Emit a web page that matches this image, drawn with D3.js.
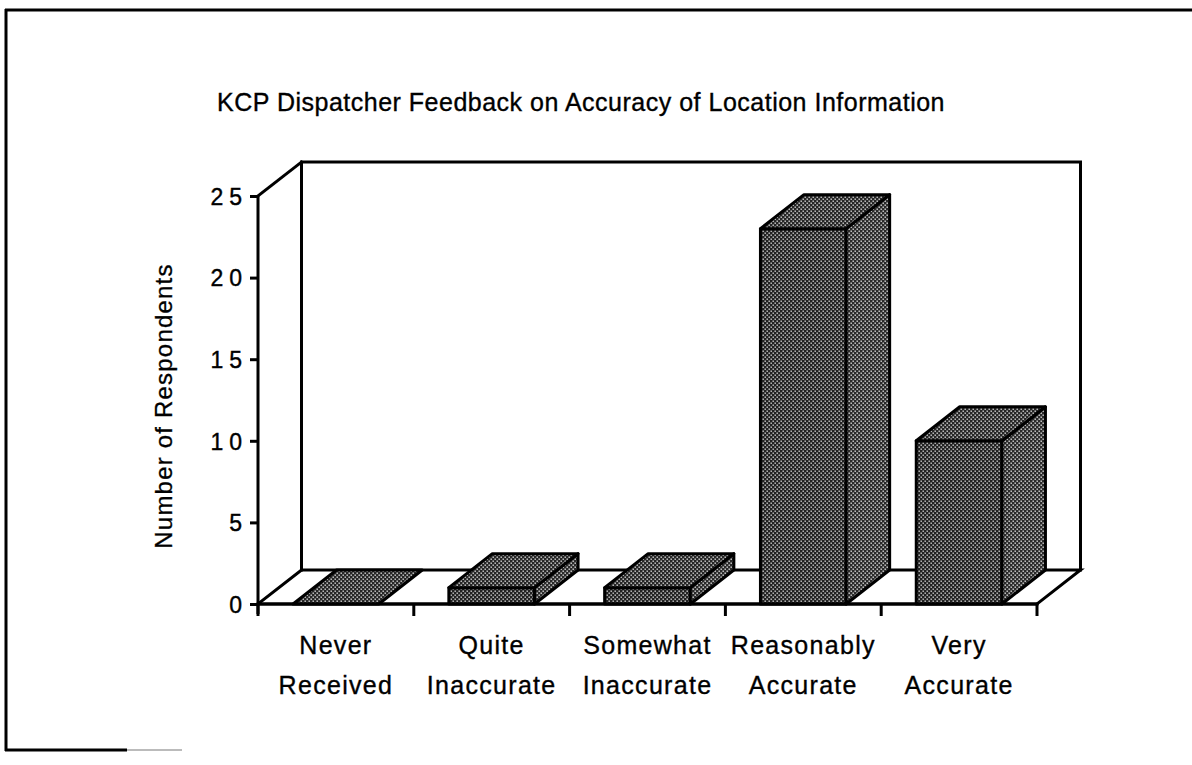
<!DOCTYPE html>
<html>
<head>
<meta charset="utf-8">
<script src="https://cdn.jsdelivr.net/npm/d3@7/dist/d3.min.js"></script>
<style>
  html, body { margin: 0; padding: 0; background: #fff; }
  svg { display: block; }
  text { font-family: "Liberation Sans", Arial, Helvetica, sans-serif; fill: #000; }
</style>
</head>
<body>
<svg id="chart" width="1192" height="765"></svg>
<script>
// Survey categories (two-line labels) and respondent counts
const categories = ["Never Received", "Quite Inaccurate", "Somewhat Inaccurate", "Reasonably Accurate", "Very Accurate"];
const labelLines = [["Never", "Received"], ["Quite", "Inaccurate"], ["Somewhat", "Inaccurate"], ["Reasonably", "Accurate"], ["Very", "Accurate"]];
const respondents = [0, 1, 1, 23, 10];
const yTicks = [0, 5, 10, 15, 20, 25];
const titleText = "KCP Dispatcher Feedback on Accuracy of Location Information";
const yTitle = "Number of Respondents";

const svg = d3.select("#chart");

// 3-D depth offset of the back plane
const depth = { dx: 43.5, dy: -34 };

const x = d3.scaleBand()
  .domain(categories)
  .range([258, 1037])
  .paddingInner(0.45)
  .paddingOuter(0.225);

const y = d3.scaleLinear().domain([0, 25]).range([604, 196]);

// Halftone fill used by the bars
const defs = svg.append("defs");
function halftone(id, bg, dot) {
  const p = defs.append("pattern")
    .attr("id", id).attr("patternUnits", "userSpaceOnUse")
    .attr("width", 4).attr("height", 4);
  p.append("rect").attr("width", 4).attr("height", 4).attr("fill", bg);
  p.append("rect").attr("x", 0.5).attr("y", 0.5).attr("width", 1.4).attr("height", 1.4).attr("fill", dot);
  p.append("rect").attr("x", 2.5).attr("y", 2.5).attr("width", 1.4).attr("height", 1.4).attr("fill", dot);
}
halftone("dotsFront", "#222", "#d0d0d0");
halftone("dotsSide", "#2a2a2a", "#dedede");
halftone("dotsTop", "#262626", "#d8d8d8");

// Outer frame
const frame = svg.append("g").attr("stroke", "#000").attr("fill", "none");
frame.append("line").attr("x1", 5).attr("y1", 10).attr("x2", 1192).attr("y2", 10).attr("stroke-width", 3);
frame.append("line").attr("x1", 6).attr("y1", 9).attr("x2", 6).attr("y2", 751).attr("stroke-width", 3);
frame.append("line").attr("x1", 5).attr("y1", 750).attr("x2", 127).attr("y2", 750).attr("stroke-width", 3);
frame.append("line").attr("x1", 127).attr("y1", 750).attr("x2", 182).attr("y2", 750).attr("stroke-width", 2).attr("stroke", "#bbb");

// Title
svg.append("text")
  .attr("x", 581).attr("y", 111)
  .attr("text-anchor", "middle")
  .attr("font-size", 25)
  .attr("letter-spacing", 0.5)
  .attr("stroke", "#000").attr("stroke-width", 0.35)
  .text(titleText);

// Walls and floor
const x0 = x.range()[0], x1 = x.range()[1];
const yb = y(0), yt = y(25);
const walls = svg.append("g").attr("stroke", "#000").attr("stroke-width", 3)
  .attr("fill", "none").attr("stroke-linejoin", "miter").attr("stroke-linecap", "square");
// back wall
walls.append("path").attr("d", d3.line()([
  [x0 + depth.dx, yb + depth.dy],
  [x0 + depth.dx, yt + depth.dy],
  [x1 + depth.dx, yt + depth.dy],
  [x1 + depth.dx, yb + depth.dy]
]));
// left side top edge
walls.append("path").attr("d", d3.line()([[x0, yt], [x0 + depth.dx, yt + depth.dy]]));
// floor
walls.append("path").attr("d", d3.line()([
  [x0, yb], [x0 + depth.dx, yb + depth.dy],
  [x1 + depth.dx, yb + depth.dy], [x1, yb]
]));
walls.append("path").attr("d", d3.line()([[x0, yb], [x1, yb]]));

// Bars drawn as extruded boxes
const bars = svg.append("g").selectAll("g").data(categories).join("g");
bars.each(function (c, i) {
  const g = d3.select(this);
  const v = respondents[i];
  const L = x(c), R = x(c) + x.bandwidth();
  const T = y(v), B = y(0);
  const dx = depth.dx, dy = depth.dy;
  const line = d3.line();
  const style = s => s.attr("stroke", "#000").attr("stroke-width", 3).attr("stroke-linejoin", "round");
  if (v > 0) {
    style(g.append("path").attr("fill", "url(#dotsFront)")
      .attr("d", line([[L, B], [L, T], [R, T], [R, B]]) + "Z"));
    style(g.append("path").attr("fill", "url(#dotsSide)")
      .attr("d", line([[R, B], [R, T], [R + dx, T + dy], [R + dx, B + dy]]) + "Z"));
  }
  style(g.append("path").attr("fill", "url(#dotsTop)")
    .attr("stroke-width", v > 0 ? 3 : 1)
    .attr("d", line([[L, T], [R, T], [R + dx, T + dy], [L + dx, T + dy]]) + "Z"));
});

// Front floor edge on top of bar bases
svg.append("line").attr("x1", x0).attr("x2", x1).attr("y1", yb).attr("y2", yb)
  .attr("stroke", "#000").attr("stroke-width", 3);

// Category tick marks at band boundaries
const gap = (x.step() - x.bandwidth()) / 2;
const bounds = categories.map(c => x(c) - gap).concat([x1]);
svg.append("g").selectAll("line").data(bounds).join("line")
  .attr("x1", d => d).attr("x2", d => d)
  .attr("y1", yb).attr("y2", yb + 12)
  .attr("stroke", "#000").attr("stroke-width", 3);

// Value axis
const letterSp = 6;
const yAxis = svg.append("g")
  .attr("transform", `translate(${x0},0)`)
  .call(d3.axisLeft(y).tickValues(yTicks).tickSize(8).tickPadding(6).tickFormat(d3.format("d")));
yAxis.select(".domain").attr("stroke-width", 3).attr("d", `M0,${yt}V${yb + 10}`);
yAxis.selectAll(".tick line").attr("stroke-width", 3);
yAxis.selectAll(".tick text")
  .attr("font-size", 23)
  .attr("font-family", "Liberation Sans, Arial, sans-serif")
  .attr("letter-spacing", letterSp)
  .attr("dx", letterSp - 2)
  .attr("dy", "0.36em")
  .attr("stroke", "#000").attr("stroke-width", 0.4);

// Axis title
svg.append("text")
  .attr("transform", `translate(172,406) rotate(-90)`)
  .attr("text-anchor", "middle")
  .attr("font-size", 24)
  .attr("letter-spacing", 1.2)
  .attr("stroke", "#000").attr("stroke-width", 0.3)
  .text(yTitle);

// Category labels
const labels = svg.append("g").selectAll("text").data(categories).join("text")
  .attr("text-anchor", "middle")
  .attr("font-size", 25)
  .attr("letter-spacing", 1.3)
  .attr("stroke", "#000").attr("stroke-width", 0.35);
labels.each(function (c, i) {
  const t = d3.select(this);
  const cx = x(c) + x.bandwidth() / 2;
  labelLines[i].forEach((s, k) => {
    t.append("tspan").attr("x", cx).attr("y", 654 + k * 40).text(s);
  });
});
</script>
</body>
</html>
